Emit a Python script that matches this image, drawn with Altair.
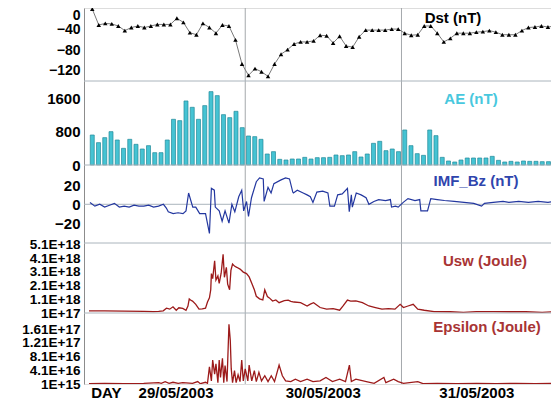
import altair as alt
import pandas as pd

FONT = "Liberation Sans"

# ---------------- data ----------------
# Dst, hourly (nT)
dst_values = [0, -31, -28, -29, -33, -42, -36, -33, -36, -33, -30, -30, -30, -18, -26,
              -46, -50, -28, -36, -47, -31, -33, -60, -107, -129, -116, -122, -131, -107, -88,
              -79, -68, -64, -64, -62, -51, -52, -66, -53, -72, -74, -54, -41, -41, -41,
              -41, -39, -39, -47, -51, -50, -33, -33, -47, -64, -57, -47, -47, -47, -45,
              -44, -42, -45, -50, -50, -50, -42, -36, -35, -33, -35, -33]

# AE bars (nT)
ae_values = [720, 536, 656, 800, 600, 400, 616, 496, 384, 464, 296, 296, 600, 1096, 1064,
             1536, 1384, 1096, 1424, 1760, 1664, 1208, 1136, 1288, 896, 696, 680, 616, 264, 320,
             136, 120, 144, 144, 184, 144, 176, 176, 184, 240, 224, 240, 320, 192, 264,
             520, 568, 344, 384, 320, 840, 464, 272, 232, 840, 704, 184, 96, 72, 120,
             168, 168, 168, 168, 208, 112, 72, 88, 72, 96, 88, 88, 80, 80, 232]
ae_step_hours = 0.96

# IMF Bz (nT)
imf_t = [0.15, 0.9, 1.65, 2.4, 3.15, 3.9, 4.66, 5.41, 6.17, 6.92, 7.67, 8.42, 9.17, 9.92,
         10.68, 11.43, 11.88, 12.18, 12.93, 13.68, 14.44, 14.9, 15.3, 15.94, 16.4, 17.0,
         17.9, 18.5, 18.8, 19.25, 19.4, 20.0, 20.45, 20.9, 21.5, 21.95, 22.4, 23.0, 23.46,
         23.76, 24.2, 24.5, 24.96, 25.7, 26.2, 26.77, 26.9, 27.5, 27.97, 28.4, 29.5, 30.2,
         30.8, 31.3, 31.4, 32.0, 32.9, 33.5, 34.0, 34.4, 35.0, 35.9, 36.7, 37.0, 37.7, 38.2,
         38.9, 39.7, 39.98, 40.3, 40.45, 41.05, 41.8, 42.56, 43.0, 43.76, 44.5, 45.56, 46.3,
         46.47, 47.07, 47.5, 48.27, 49.0, 50.08, 50.8, 50.98, 52.0, 52.5, 53.5, 54.6, 56.1,
         57.6, 59.1, 60.3, 60.75, 62.1, 63.6, 64.5, 66.0, 67.5, 69.0, 70.5, 71.3]
imf_v = [2, -2, 0, -3, -1, 1, -3, -2, -3, -1, -2, -2, -1, -3,
         -2, 0, -4, -8, -10, -9, -10, -7, 12, -3, -3, -10,
         -10, -31, 17, 15, -3, -7, -18, -7, -20, 0, -8, 8, 15,
         -7, 3, -13, 7, 24, 28, 27, 3, 18, 12, 22, 26, 28,
         27, 13, 12, 15, 12, 10, 8, 2, 13, 14, 12, -2, -2, 10,
         11, 17, -8, 10, -3, 12, 10, 7, 0, 3, 5, 4, 5,
         -3, -2, -3, 2, 6, 4, 5, -7, -7, 6, 5, 4, 3,
         2, 1, -2, 1, 2, 3, 2, 3, 2, 3, 2, 3]

# Usw (Joule), in units of 1E+18
usw_t = [0, 2.4, 5.4, 8.4, 9.9, 10.7, 11.4, 11.9, 12.4, 12.9, 13.4, 13.8, 14.4, 14.9, 15.2,
         15.4, 15.6, 15.9, 16.4, 16.9, 17.4, 17.9, 18.2, 18.5, 18.7, 18.8, 19.0, 19.3, 19.5,
         19.8, 20.0, 20.3, 20.6, 20.8, 21.1, 21.3, 21.6, 21.8, 22.05, 22.4, 22.7, 23.2, 23.7,
         24.2, 24.6, 25.0, 25.4, 25.7, 26.2, 26.7, 27.0, 27.4, 27.7, 28.2, 28.7, 29.2, 30.0,
         30.6, 31.0, 31.5, 32.5, 33.5, 34.0, 34.5, 35.5, 36.5, 37.5, 38.5, 39.0, 39.7, 40.2,
         41.0, 42.0, 43.0, 44.0, 45.0, 46.0, 47.0, 47.8, 48.3, 49.0, 49.8, 50.5, 51.5, 53.0,
         55.5, 57.5, 59.5, 62.1, 64.6, 67.1, 69.6, 71.3]
usw_v = [0.26, 0.25, 0.24, 0.22, 0.2, 0.22, 0.26, 0.45, 0.38, 0.55, 0.3, 0.48, 0.43, 0.3, 0.6,
         1.13, 1.05, 0.97, 0.73, 0.38, 0.4, 0.45, 0.9, 1.2, 1.79, 2.97, 2.6, 3.9, 2.5,
         2.8, 2.26, 3.0, 4.37, 2.7, 3.43, 2.2, 1.79, 3.2, 3.67, 3.5, 3.43, 3.3, 3.08,
         2.97, 2.73, 2.26, 1.79, 1.32, 1.13, 1.05, 1.79, 1.3, 1.2, 0.97, 1.05, 0.85, 1.0,
         1.04, 0.95, 0.9, 0.85, 0.61, 0.75, 0.85, 0.5, 0.38, 0.42, 0.3, 0.6, 1.04, 0.97,
         0.99, 0.85, 0.61, 0.5, 0.38, 0.42, 0.38, 0.73, 0.5, 0.61, 0.73, 0.38, 0.3, 0.2,
         0.19, 0.15, 0.2, 0.2, 0.19, 0.19, 0.15, 0.19]

# Epsilon (Joule), in units of 1E+16
eps_t = [0, 2.4, 5.4, 8.4, 10.7, 11.1, 11.7, 12.3, 12.9, 13.7, 14.4, 15.9, 16.7, 17.1, 17.9,
         18.2, 18.5, 18.8, 19.0, 19.3, 19.5, 19.8, 20.0, 20.2, 20.5, 20.7, 20.9, 21.2, 21.5,
         21.7, 21.85, 22.05, 22.35, 22.6, 22.9, 23.2, 23.46, 23.7, 24.0, 24.4, 24.6, 25.0,
         25.4, 25.7, 26.1, 26.5, 27.0, 27.5, 28.0, 28.5, 29.2, 29.7, 30.2, 31.0, 31.7, 32.5,
         33.5, 34.4, 35.5, 36.4, 37.4, 38.5, 39.4, 40.0, 40.3, 41.0, 42.6, 43.8, 45.3, 45.6,
         46.8, 47.5, 48.3, 50.5, 51.3, 53.5, 56.5, 59.5, 62.6, 65.6, 68.6, 71.3]
eps_v = [0.2, 0.3, 0.2, 0.3, 0.5, 0.3, 0.8, 0.3, 0.6, 0.3, 0.5, 0.3, 0.8, 0.2, 0.6,
         0.3, 5.1, 1.0, 7.1, 3.0, 6.0, 0.5, 7.1, 2.0, 7.6, 0.5, 5.5, 0.8, 17.5,
         12.9, 4.5, 0.5, 4.0, 0.5, 2.8, 0.8, 7.1, 1.0, 4.5, 1.0, 5.6, 1.0,
         4.0, 0.8, 3.5, 1.0, 2.5, 0.8, 2.5, 0.8, 5.6, 2.5, 1.0, 0.8, 1.5, 0.8,
         1.5, 0.8, 1.0, 2.0, 0.8, 1.5, 0.8, 5.6, 0.8, 1.5, 0.8, 0.3, 2.0, 0.5,
         1.5, 0.8, 0.3, 0.8, 0.2, 0.3, 0.2, 0.3, 0.2, 0.3, 0.2, 0.3]

day_lines = [24, 48]
x_label_pos = [2.6, 13.3, 35.9, 59.5]
x_labels = ["DAY", "29/05/2003", "30/05/2003", "31/05/2003"]

dst_ticks = [0, -40, -80, -120]
ae_ticks = [0, 800, 1600]
imf_ticks = [-20, 0, 20]
usw_ticks = [1e17, 1.1e18, 2.1e18, 3.1e18, 4.1e18, 5.1e18]
eps_ticks = [1e15, 4.1e16, 8.1e16, 1.21e17, 1.61e17]

# ---------------- tables ----------------
dst_df = pd.DataFrame({"t": [i + 0.5 for i in range(len(dst_values))], "v": dst_values})
ae_df = pd.DataFrame({"t": [0.5 + i * ae_step_hours for i in range(len(ae_values))], "v": ae_values})
imf_df = pd.DataFrame({"t": imf_t, "v": imf_v})
usw_df = pd.DataFrame({"t": usw_t, "v": [v * 1e18 for v in usw_v]})
eps_df = pd.DataFrame({"t": eps_t, "v": [v * 1e16 for v in eps_v]})
days_df = pd.DataFrame({"t": day_lines})

# ---------------- layout ----------------
W, H = 467, 376
X_MAX = 70.2
GRID = "#aab4bc"

# x labels
cond = "'%s'" % x_labels[-1]
for i in range(len(x_labels) - 2, -1, -1):
    mid = (x_label_pos[i] + x_label_pos[i + 1]) / 2
    cond = "datum.value < %s ? '%s' : (%s)" % (mid, x_labels[i], cond)
x_axis = alt.Axis(values=x_label_pos, labelExpr=cond, grid=False, ticks=False, domain=False,
                  labelFont=FONT, labelFontWeight="bold", labelFontSize=15, labelColor="black",
                  labelPadding=1, labelFlush=False, labelOverlap=False, title=None, orient="bottom")
xs = alt.Scale(domain=[0, X_MAX], nice=False, zero=False)


def xenc():
    return alt.X("t:Q", scale=xs, axis=x_axis)


def yaxis(values, expr=None, offset=None, size=15, fmt=None):
    kw = dict(values=values, grid=False, ticks=False, domainColor="#8c8c8c", domainWidth=1,
              labelFont=FONT, labelFontWeight="bold", labelFontSize=size, labelColor="black",
              labelPadding=4, title=None, labelFlush=False, labelOverlap=False, orient="left")
    if expr:
        kw["labelExpr"] = expr
    if offset:
        kw["labelOffset"] = offset
    if fmt:
        kw["format"] = fmt
    return alt.Axis(**kw)


def edge(ydef, value):
    return alt.Chart(pd.DataFrame({"v": [value]})).mark_rule(color=GRID, strokeWidth=1).encode(y=ydef)


def label(txt, color, x, y):
    return alt.Chart(pd.DataFrame({"k": [0]})).mark_text(
        text=txt, font=FONT, fontWeight="bold", fontSize=15, color=color,
        align="center", baseline="middle").encode(x=alt.value(x), y=alt.value(y))


# Dst panel: pixels 0..73
dst_dom = [-140, 2]
dst_y = alt.Y("v:Q", scale=alt.Scale(domain=dst_dom, range=[73, 0], nice=False, zero=False),
              axis=yaxis(dst_ticks, fmt="d", size=14,
                         offset={"condition": {"test": "datum.value == 0", "value": 6}, "value": 0}))
dst_panel = alt.layer(
    alt.Chart(dst_df).mark_line(color="#7a7a7a", strokeWidth=1, clip=True).encode(x=xenc(), y=dst_y),
    alt.Chart(dst_df).mark_point(shape="triangle-up", filled=True, color="black", size=20, opacity=1,
                                 clip=True).encode(x=xenc(), y=dst_y),
)

# AE panel: pixels 73..157
ae_dom = [0, 2015]
ae_y = alt.Y("v:Q", scale=alt.Scale(domain=ae_dom, range=[157, 73], nice=False),
             axis=yaxis(ae_ticks, fmt="d"))
ae_panel = alt.layer(
    edge(ae_y, ae_dom[1]),
    alt.Chart(ae_df).mark_bar(size=4, color="#45c3d3", stroke="#23899a", strokeWidth=0.7,
                              clip=True).encode(x=xenc(), y=ae_y),
)

# IMF panel: pixels 157..235
imf_dom = [-41.2, 41.8]
imf_y = alt.Y("v:Q", scale=alt.Scale(domain=imf_dom, range=[235, 157], nice=False, zero=False),
              axis=yaxis(imf_ticks, fmt="d"))
imf_panel = alt.layer(
    edge(imf_y, imf_dom[1]),
    edge(imf_y, 0),
    alt.Chart(imf_df).mark_line(color="#23379f", strokeWidth=1.2, clip=True).encode(x=xenc(), y=imf_y),
)

# Usw panel: pixels 235..305
usw_dom = [1e17, 5.2e18]
usw_expr = "datum.value < 5e17 ? '1E+17' : format(datum.value / 1e18, '.1f') + 'E+18'"
usw_y = alt.Y("v:Q", scale=alt.Scale(domain=usw_dom, range=[305, 235], nice=False, zero=False),
              axis=yaxis(usw_ticks, usw_expr, size=13.5))
usw_panel = alt.layer(
    edge(usw_y, usw_dom[1]),
    alt.Chart(usw_df).mark_line(color="#9c1a1a", strokeWidth=1.3, clip=True).encode(x=xenc(), y=usw_y),
)

# Epsilon panel: pixels 305..376
eps_dom = [1e15, 2.08e17]
eps_expr = ("datum.value < 1e16 ? '1E+15' : datum.value < 1e17 ? "
            "format(datum.value / 1e16, '.1f') + 'E+16' : format(datum.value / 1e17, '.2f') + 'E+17'")
eps_y = alt.Y("v:Q", scale=alt.Scale(domain=eps_dom, range=[376, 305], nice=False, zero=False),
              axis=yaxis(eps_ticks, eps_expr, size=13.5))
eps_panel = alt.layer(
    edge(eps_y, eps_dom[1]),
    alt.Chart(eps_df).mark_line(color="#9c1a1a", strokeWidth=1.3, clip=True).encode(x=xenc(), y=eps_y),
)

day_rules = alt.Chart(days_df).mark_rule(color="#a4a8ac", strokeWidth=1).encode(x=xenc())

chart = alt.layer(
    day_rules,
    dst_panel, ae_panel, imf_panel, usw_panel, eps_panel,
    label("Dst (nT)", "black", 369, 10),
    label("AE (nT)", "#48c8de", 387, 91),
    label("IMF_Bz (nT)", "#2f45ad", 392, 173),
    label("Usw (Joule)", "#a83434", 401, 253),
    label("Epsilon (Joule)", "#a83434", 403, 319),
).resolve_scale(y="independent").properties(
    width=W, height=H,
    autosize=alt.AutoSizeParams(type="none"),
    padding={"left": 76, "top": 0, "right": 0, "bottom": 30},
).configure_view(stroke=GRID, strokeWidth=1).configure(background="white")

chart.save("out.html", embed_options={"renderer": "svg", "actions": False})
